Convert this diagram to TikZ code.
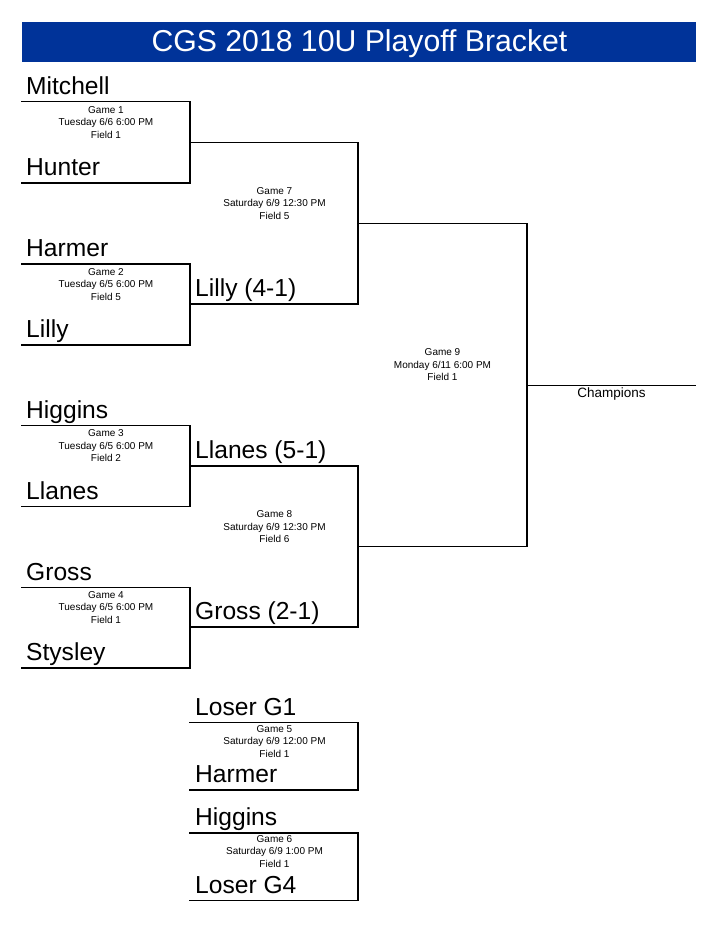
\documentclass[tikz,border=0pt]{standalone}
\usepackage{fontspec}
\setmainfont{Liberation Sans}
\definecolor{titleblue}{RGB}{0,51,153}
\tikzset{
  bline/.style={line width=1.7pt, line cap=rect},
  team/.style={anchor=base west, inner sep=0pt, font=\fontsize{24.6}{28}\selectfont},
  info/.style={anchor=center, inner sep=0pt, align=center, font=\fontsize{10}{12.5}\selectfont},
}
\begin{document}
\begin{tikzpicture}[x=1pt,y=-1pt]
\useasboundingbox (0,0) rectangle (720,931);
% title
\fill[titleblue] (21.5,21.7) rectangle (695.5,62.3);
\node[anchor=base, inner sep=0pt, text=white, font=\fontsize{30.2}{34}\selectfont] (title) at (359.5,51.7) {CGS 2018 10U Playoff Bracket};

% ---------- Round 1 coordinates ----------
\coordinate (g1tl) at (22,101.5);  \coordinate (g1tr) at (190,101.5);
\coordinate (g1bl) at (22,183);    \coordinate (g1br) at (190,183);
\coordinate (g2tl) at (22,264);    \coordinate (g2tr) at (190,264);
\coordinate (g2bl) at (22,345);    \coordinate (g2br) at (190,345);
\coordinate (g3tl) at (22,425.5);  \coordinate (g3tr) at (190,425.5);
\coordinate (g3bl) at (22,506.5);  \coordinate (g3br) at (190,506.5);
\coordinate (g4tl) at (22,587.5);  \coordinate (g4tr) at (190,587.5);
\coordinate (g4bl) at (22,668);    \coordinate (g4br) at (190,668);
% ---------- Round 2 ----------
\coordinate (g7tl) at (190,142.5); \coordinate (g7tr) at (358,142.5);
\coordinate (g7bl) at (190,304);   \coordinate (g7br) at (358,304);
\coordinate (g8tl) at (190,466);   \coordinate (g8tr) at (358,466);
\coordinate (g8bl) at (190,627);   \coordinate (g8br) at (358,627);
% ---------- Final ----------
\coordinate (g9tl) at (358,223.5); \coordinate (g9tr) at (527,223.5);
\coordinate (g9bl) at (358,546.5); \coordinate (g9br) at (527,546.5);
\coordinate (chl) at (527,385.5);  \coordinate (chr) at (695.5,385.5);
% ---------- Consolation ----------
\coordinate (g5tl) at (190,722.5); \coordinate (g5tr) at (358,722.5);
\coordinate (g5bl) at (190,790);   \coordinate (g5br) at (358,790);
\coordinate (g6tl) at (190,833);   \coordinate (g6tr) at (358,833);
\coordinate (g6bl) at (190,900.5); \coordinate (g6br) at (358,900.5);

% lines
\foreach \g in {g1,g2,g3,g4,g7,g8,g9,g5,g6}{
  \draw[bline] (\g tl) -- (\g tr) -- (\g br) -- (\g bl);
}
\draw[bline] (chl) -- (chr);

% team names
\node[team] (t1a) at (26,95) {Mitchell};
\node[team] (t1b) at (26,175.5) {Hunter};
\node[team] (t2a) at (26,256.5) {Harmer};
\node[team] (t2b) at (26,337.5) {Lilly};
\node[team] (t3a) at (26,418) {Higgins};
\node[team] (t3b) at (26,499) {Llanes};
\node[team] (t4a) at (26,580) {Gross};
\node[team] (t4b) at (26,660.5) {Stysley};
\node[team] (t7b) at (195,296.5) {Lilly (4-1)};
\node[team] (t8a) at (195,458.5) {Llanes (5-1)};
\node[team] (t8b) at (195,619.5) {Gross (2-1)};
\node[team] (t5a) at (195,715) {Loser G1};
\node[team] (t5b) at (195,782.5) {Harmer};
\node[team] (t6a) at (195,825.5) {Higgins};
\node[team] (t6b) at (195,893) {Loser G4};

% game info
\node[info] (i1) at (106,122.5) {Game 1\\Tuesday 6/6 6:00 PM\\Field 1};
\node[info] (i2) at (106,284.5) {Game 2\\Tuesday 6/5 6:00 PM\\Field 5};
\node[info] (i3) at (106,446) {Game 3\\Tuesday 6/5 6:00 PM\\Field 2};
\node[info] (i4) at (106,607.5) {Game 4\\Tuesday 6/5 6:00 PM\\Field 1};
\node[info] (i7) at (274.5,203.5) {Game 7\\Saturday 6/9 12:30 PM\\Field 5};
\node[info] (i8) at (274.5,527) {Game 8\\Saturday 6/9 12:30 PM\\Field 6};
\node[info] (i9) at (442.5,365) {Game 9\\Monday 6/11 6:00 PM\\Field 1};
\node[info] (i5) at (274.5,741.5) {Game 5\\Saturday 6/9 12:00 PM\\Field 1};
\node[info] (i6) at (274.5,851.5) {Game 6\\Saturday 6/9 1:00 PM\\Field 1};
\node[anchor=center, inner sep=0pt, font=\fontsize{13.5}{15}\selectfont] (champ) at (611.5,394) {Champions};
\end{tikzpicture}
\end{document}
